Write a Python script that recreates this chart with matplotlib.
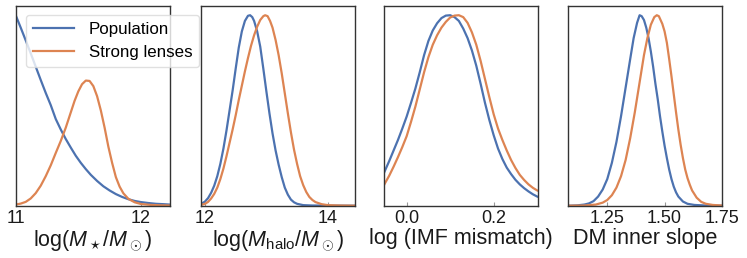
import matplotlib
matplotlib.use("Agg")
import matplotlib.pyplot as plt

plt.rcParams["font.family"] = ["Liberation Sans", "DejaVu Sans"]
plt.rcParams["mathtext.fontset"] = "custom"
plt.rcParams["mathtext.rm"] = "Liberation Sans"
plt.rcParams["mathtext.it"] = "Liberation Sans:italic"
plt.rcParams["mathtext.bf"] = "Liberation Sans:bold"

BLUE = "#4C72B0"
ORANGE = "#DD8452"

# --- values (relative density, peak of each panel ~1) ---
# log stellar mass
mstar_pop_x = [11.00, 11.04, 11.08, 11.12, 11.16, 11.20, 11.24, 11.28, 11.32, 11.36,
               11.40, 11.44, 11.48, 11.52, 11.56, 11.60, 11.65, 11.70, 11.75, 11.80,
               11.85, 11.90, 11.95, 12.00, 12.06, 12.12, 12.18, 12.23]
mstar_pop_y = [1.000, 0.935, 0.868, 0.800, 0.730, 0.660, 0.592, 0.528, 0.455, 0.400,
               0.350, 0.305, 0.262, 0.225, 0.192, 0.162, 0.130, 0.102, 0.080, 0.061,
               0.046, 0.034, 0.025, 0.019, 0.014, 0.010, 0.008, 0.006]
mstar_lens_x = [11.00, 11.04, 11.08, 11.12, 11.16, 11.20, 11.24, 11.28, 11.32, 11.36,
                11.40, 11.44, 11.47, 11.50, 11.53, 11.56, 11.59, 11.62, 11.65, 11.68,
                11.71, 11.74, 11.77, 11.80, 11.83, 11.86, 11.90, 11.95, 12.00, 12.08,
                12.16, 12.23]
mstar_lens_y = [0.006, 0.011, 0.020, 0.038, 0.066, 0.105, 0.155, 0.212, 0.277, 0.340,
                0.410, 0.490, 0.550, 0.600, 0.638, 0.657, 0.655, 0.628, 0.575, 0.500,
                0.410, 0.310, 0.225, 0.150, 0.100, 0.065, 0.036, 0.018, 0.009, 0.004,
                0.002, 0.001]

# log halo mass
mhalo_pop_x = [11.93, 12.00, 12.05, 12.10, 12.15, 12.20, 12.25, 12.30, 12.35, 12.40,
               12.45, 12.50, 12.55, 12.60, 12.65, 12.70, 12.735, 12.77, 12.80, 12.85,
               12.90, 12.95, 13.00, 13.05, 13.10, 13.15, 13.20, 13.25, 13.30, 13.35,
               13.40, 13.45, 13.50, 13.60, 13.75, 14.44]
mhalo_pop_y = [0.008, 0.022, 0.040, 0.068, 0.105, 0.155, 0.220, 0.300, 0.395, 0.500,
               0.605, 0.720, 0.830, 0.915, 0.970, 0.997, 1.000, 0.990, 0.970, 0.915,
               0.835, 0.720, 0.600, 0.485, 0.380, 0.290, 0.215, 0.150, 0.095, 0.058,
               0.032, 0.018, 0.010, 0.003, 0.001, 0.000]
mhalo_lens_x = [11.93, 12.00, 12.05, 12.10, 12.15, 12.20, 12.25, 12.30, 12.35, 12.40,
                12.45, 12.50, 12.55, 12.60, 12.65, 12.70, 12.75, 12.80, 12.85, 12.90,
                12.95, 12.98, 13.02, 13.06, 13.10, 13.15, 13.20, 13.25, 13.30, 13.35,
                13.40, 13.45, 13.50, 13.55, 13.60, 13.65, 13.70, 13.75, 13.80, 13.90,
                14.00, 14.20, 14.44]
mhalo_lens_y = [0.004, 0.010, 0.020, 0.038, 0.062, 0.095, 0.140, 0.195, 0.260, 0.330,
                0.400, 0.475, 0.555, 0.630, 0.705, 0.775, 0.840, 0.895, 0.940, 0.975,
                0.995, 1.000, 0.995, 0.970, 0.935, 0.870, 0.790, 0.695, 0.590, 0.485,
                0.385, 0.295, 0.220, 0.155, 0.108, 0.072, 0.046, 0.030, 0.019, 0.008,
                0.003, 0.001, 0.000]

# log IMF mismatch
imf_pop_x = [-0.052, -0.04, -0.03, -0.02, -0.01, 0.00, 0.01, 0.02, 0.03, 0.04,
             0.05, 0.06, 0.07, 0.08, 0.09, 0.10, 0.11, 0.12, 0.13, 0.14,
             0.15, 0.16, 0.17, 0.18, 0.19, 0.20, 0.21, 0.22, 0.23, 0.24,
             0.25, 0.26, 0.27, 0.28, 0.29, 0.30]
imf_pop_y = [0.173, 0.235, 0.290, 0.345, 0.405, 0.468, 0.540, 0.615, 0.700, 0.790,
             0.865, 0.920, 0.958, 0.985, 0.998, 1.000, 0.990, 0.970, 0.930, 0.880,
             0.815, 0.735, 0.640, 0.540, 0.450, 0.370, 0.300, 0.245, 0.200, 0.166,
             0.136, 0.112, 0.092, 0.075, 0.060, 0.048]
imf_lens_x = [-0.052, -0.04, -0.03, -0.02, -0.01, 0.00, 0.01, 0.02, 0.03, 0.04,
              0.05, 0.06, 0.07, 0.08, 0.09, 0.10, 0.11, 0.12, 0.13, 0.14,
              0.15, 0.16, 0.17, 0.18, 0.19, 0.20, 0.21, 0.22, 0.23, 0.24,
              0.25, 0.26, 0.27, 0.28, 0.29, 0.30]
imf_lens_y = [0.109, 0.158, 0.205, 0.255, 0.308, 0.365, 0.440, 0.520, 0.610, 0.700,
              0.780, 0.845, 0.895, 0.935, 0.965, 0.988, 0.998, 1.000, 0.990, 0.960,
              0.910, 0.845, 0.760, 0.665, 0.570, 0.480, 0.405, 0.345, 0.290, 0.240,
              0.198, 0.162, 0.135, 0.112, 0.094, 0.080]

# DM inner slope
slope_pop_x = [1.081, 1.12, 1.15, 1.17, 1.19, 1.21, 1.23, 1.25, 1.27, 1.29,
               1.31, 1.33, 1.35, 1.365, 1.38, 1.391, 1.40, 1.41, 1.42, 1.43,
               1.44, 1.45, 1.46, 1.47, 1.48, 1.49, 1.50, 1.51, 1.52, 1.53,
               1.54, 1.55, 1.56, 1.58, 1.60, 1.63, 1.68, 1.75]
slope_pop_y = [0.000, 0.002, 0.006, 0.012, 0.024, 0.048, 0.085, 0.140, 0.225, 0.335,
               0.470, 0.620, 0.770, 0.880, 0.960, 1.000, 0.995, 0.975, 0.935, 0.880,
               0.810, 0.730, 0.640, 0.560, 0.470, 0.390, 0.315, 0.250, 0.190, 0.140,
               0.100, 0.070, 0.048, 0.022, 0.010, 0.004, 0.001, 0.000]
slope_lens_x = [1.081, 1.15, 1.20, 1.23, 1.25, 1.27, 1.29, 1.31, 1.33, 1.35,
                1.37, 1.39, 1.41, 1.425, 1.44, 1.455, 1.466, 1.475, 1.49, 1.50,
                1.51, 1.52, 1.53, 1.54, 1.55, 1.56, 1.57, 1.58, 1.59, 1.60,
                1.61, 1.62, 1.64, 1.66, 1.68, 1.71, 1.75]
slope_lens_y = [0.000, 0.001, 0.006, 0.016, 0.030, 0.055, 0.095, 0.155, 0.240, 0.355,
                0.490, 0.640, 0.790, 0.880, 0.950, 0.990, 1.000, 0.995, 0.955, 0.915,
                0.855, 0.770, 0.680, 0.585, 0.490, 0.400, 0.320, 0.250, 0.190, 0.145,
                0.110, 0.080, 0.042, 0.020, 0.010, 0.004, 0.001]

xlabels = [r"$\log(M_\star/M_\odot)$", r"$\log(M_{\rm halo}/M_\odot)$",
           "log (IMF mismatch)", "DM inner slope"]
xlims = [(11.0, 12.23), (11.93, 14.44), (-0.052, 0.302), (1.08, 1.752)]
xticks = [[11, 12], [12, 14], [0.0, 0.2], [1.25, 1.50, 1.75]]
xticklabels = [["11", "12"], ["12", "14"], ["0.0", "0.2"], ["1.25", "1.50", "1.75"]]

pop = [(mstar_pop_x, mstar_pop_y), (mhalo_pop_x, mhalo_pop_y),
       (imf_pop_x, imf_pop_y), (slope_pop_x, slope_pop_y)]
lens = [(mstar_lens_x, mstar_lens_y), (mhalo_lens_x, mhalo_lens_y),
        (imf_lens_x, imf_lens_y), (slope_lens_x, slope_lens_y)]

fig = plt.figure(figsize=(7.47, 2.58), dpi=100)
lefts = [0.021, 0.2687, 0.5141, 0.7608]

for i in range(4):
    ax = fig.add_axes([lefts[i], 0.2027, 0.2062, 0.7752])
    ax.plot(*pop[i], color=BLUE, lw=1.6, label="Population")
    ax.plot(*lens[i], color=ORANGE, lw=1.6, label="Strong lenses")
    ax.set_xlim(*xlims[i])
    ax.set_ylim(0, 1.05)
    ax.set_yticks([])
    ax.set_xticks(xticks[i])
    ax.set_xticklabels(xticklabels[i])
    ax.tick_params(axis="x", direction="in", length=3, width=0.8, color="0.6",
                   labelsize=13, pad=3.0, labelcolor="0.1")
    ax.set_xlabel(xlabels[i], fontsize=15.5, labelpad=1, color="0.1")
    for s in ax.spines.values():
        s.set_color("0.2")
        s.set_linewidth(1.0)
    if i == 0:
        leg = ax.legend(loc="upper left", bbox_to_anchor=(0.067, 0.953),
                        borderaxespad=0, fontsize=12.2, handlelength=2.45,
                        handletextpad=0.85, framealpha=0.8, edgecolor="0.85")
        leg.set_zorder(10)
        leg.set_clip_on(False)

fig.savefig("out.png", dpi=100)
